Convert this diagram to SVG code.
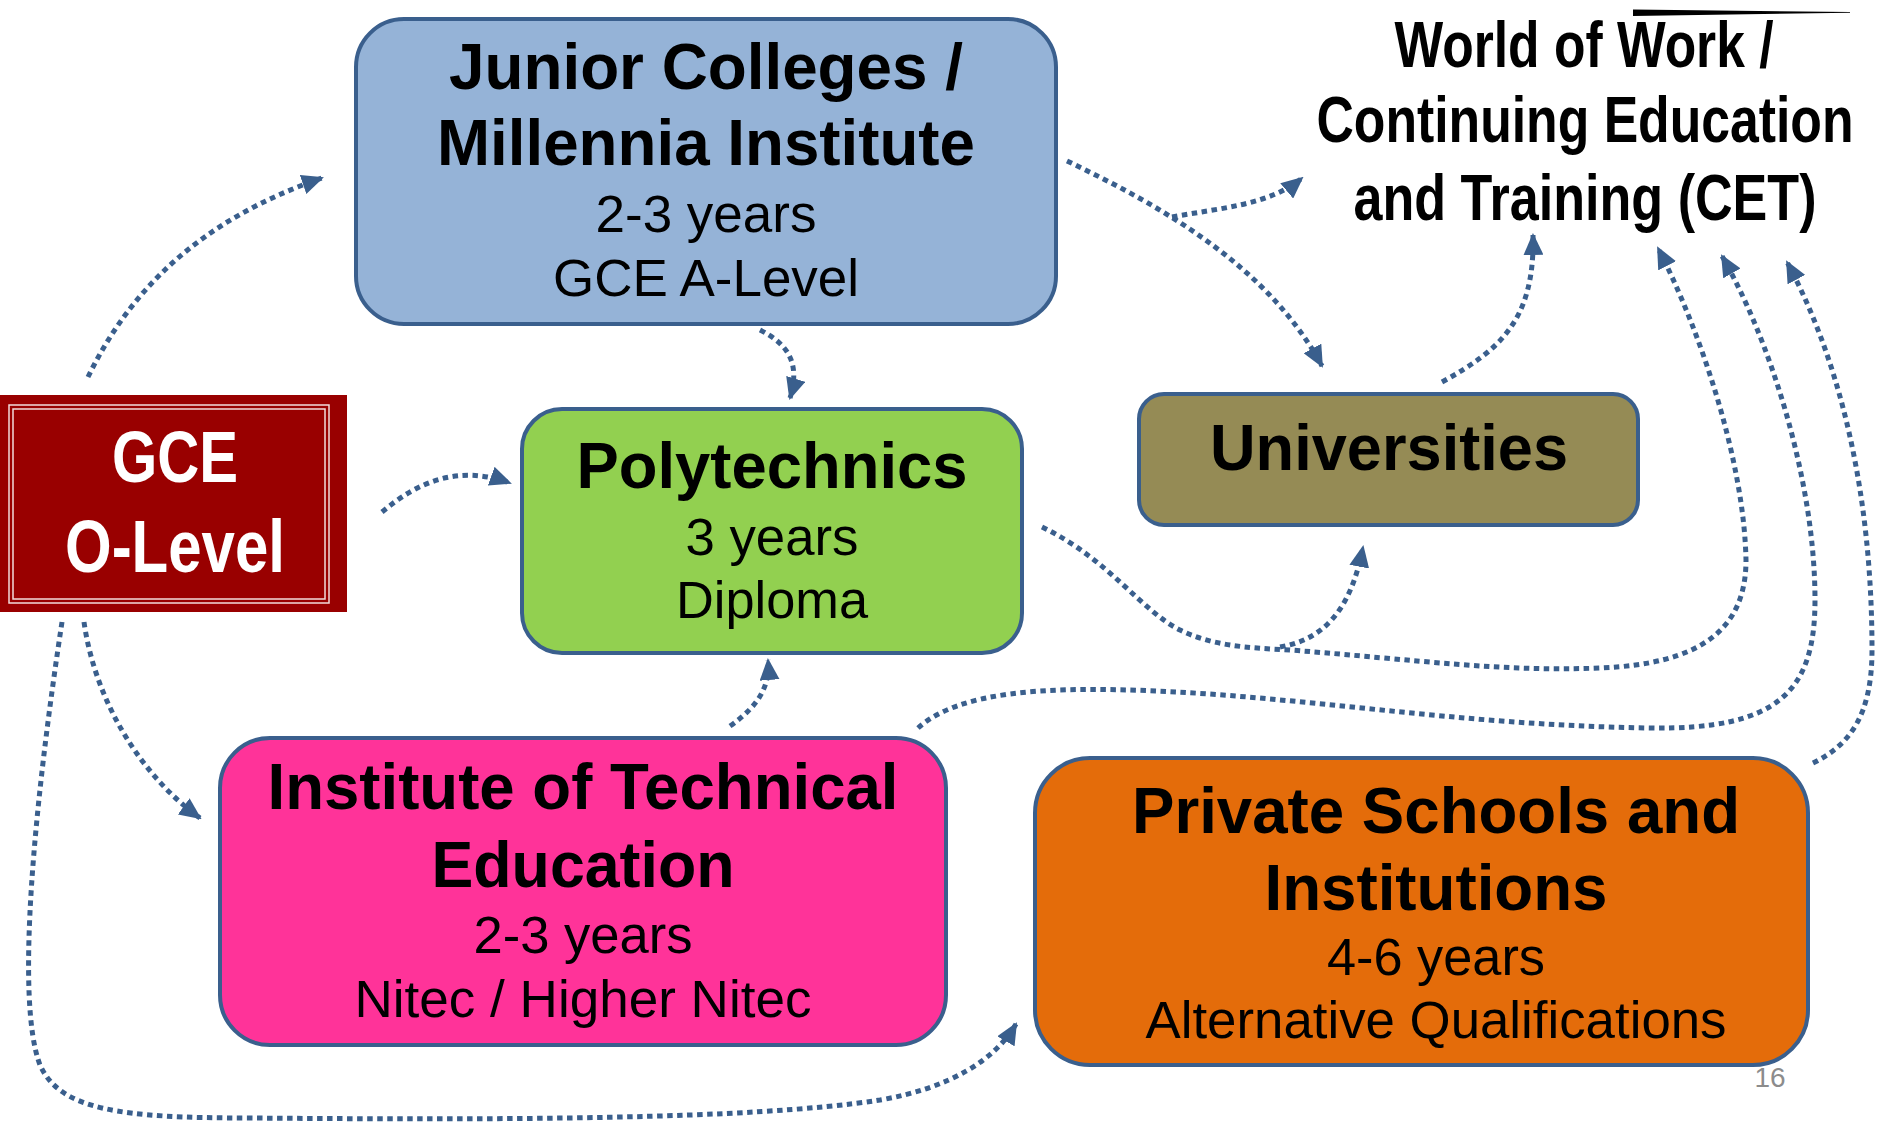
<svg xmlns="http://www.w3.org/2000/svg" width="1883" height="1124" viewBox="0 0 1883 1124">
<style>
.box{stroke:#3a5f8d;stroke-width:4}
.t{font-family:"Liberation Sans",Arial,sans-serif;text-anchor:middle;fill:#000}
.b{font-weight:bold;font-size:64px}
.n{font-weight:bold;font-size:52px}
.r{font-size:51px}
.c{fill:none;stroke:#3a5f8d;stroke-width:5;stroke-dasharray:5.5 4.5}
.a{marker-end:url(#arr)}
</style>
<defs>
<marker id="arr" markerUnits="userSpaceOnUse" markerWidth="22" markerHeight="20" viewBox="0 0 22 20" refX="20" refY="10" orient="auto">
<path d="M0,0 L22,10 L0,20 z" fill="#3a5f8d"/>
</marker>
</defs>
<rect width="1883" height="1124" fill="#fff"/>

<g id="connectors">
<path class="c a" d="M88 377 C130 290,200 220,322 178"/>
<path class="c a" d="M382 512 C420 480,460 465,510 483"/>
<path class="c a" d="M84 622 C95 700,140 775,200 818"/>
<path class="c a" d="M62 622 C35 800,15 1000,40 1065 C60 1110,120 1118,250 1118 C500 1120,750 1120,880 1100 C950 1088,995 1060,1016 1024"/>
<path class="c a" d="M760 330 C790 345,800 365,790 398"/>
<path class="c a" d="M730 726 C760 705,770 685,768 660"/>
<path class="c a" d="M1067 161 C1170 210,1270 270,1322 366"/>
<path class="c a" d="M1172 217 C1220 208,1270 205,1302 178"/>
<path class="c a" d="M1442 382 C1500 350,1535 320,1533 235"/>
<path class="c a" d="M1042 527 C1110 560,1140 610,1180 630 C1210 645,1245 648,1290 650 C1420 660,1500 672,1600 668 C1700 664,1746 630,1746 560 C1744 460,1700 330,1658 248"/>
<path class="c a" d="M1280 647 C1320 640,1350 615,1363 547"/>
<path class="c a" d="M918 728 C960 690,1050 688,1130 690 C1300 695,1450 725,1650 728 C1780 730,1815 690,1815 600 C1815 480,1770 340,1722 256"/>
<path class="c a" d="M1813 763 C1850 745,1872 715,1872 650 C1872 520,1850 380,1787 262"/>
</g>

<g id="gce">
<rect x="0" y="395" width="347" height="217" fill="#990000"/>
<rect x="9" y="405" width="320" height="198" fill="none" stroke="#f2dcdb" stroke-width="1.5"/>
<rect x="13" y="409" width="312" height="190" fill="none" stroke="#f2dcdb" stroke-width="1.5"/>
<text class="t" x="175" y="482" font-size="72" font-weight="bold" style="fill:#fff" textLength="126" lengthAdjust="spacingAndGlyphs">GCE</text>
<text class="t" x="175" y="572" font-size="74" font-weight="bold" style="fill:#fff" textLength="220" lengthAdjust="spacingAndGlyphs">O-Level</text>
</g>

<g id="jc">
<rect class="box" x="356" y="19" width="700" height="305" rx="48" fill="#95b3d7"/>
<text class="t b" x="706" y="89" textLength="514" lengthAdjust="spacingAndGlyphs">Junior Colleges /</text>
<text class="t b" x="706" y="165" textLength="538" lengthAdjust="spacingAndGlyphs">Millennia Institute</text>
<text class="t r" x="706" y="232" textLength="221" lengthAdjust="spacingAndGlyphs">2-3 years</text>
<text class="t r" x="706" y="296" textLength="306" lengthAdjust="spacingAndGlyphs">GCE A-Level</text>
</g>

<g id="poly">
<rect class="box" x="522" y="409" width="500" height="244" rx="40" fill="#92d050"/>
<text class="t b" x="772" y="488" textLength="391" lengthAdjust="spacingAndGlyphs">Polytechnics</text>
<text class="t r" x="772" y="555" textLength="173" lengthAdjust="spacingAndGlyphs">3 years</text>
<text class="t r" x="772" y="618" textLength="192" lengthAdjust="spacingAndGlyphs">Diploma</text>
</g>

<g id="universities">
<rect class="box" x="1139" y="394" width="499" height="131" rx="25" fill="#958b55"/>
<text class="t b" x="1389" y="470" textLength="358" lengthAdjust="spacingAndGlyphs">Universities</text>
</g>

<g id="ite">
<rect class="box" x="220" y="738" width="726" height="307" rx="50" fill="#ff3399"/>
<text class="t b" x="583" y="809" textLength="631" lengthAdjust="spacingAndGlyphs">Institute of Technical</text>
<text class="t b" x="583" y="887" textLength="303" lengthAdjust="spacingAndGlyphs">Education</text>
<text class="t r" x="583" y="953" textLength="219" lengthAdjust="spacingAndGlyphs">2-3 years</text>
<text class="t r" x="583" y="1017" textLength="457" lengthAdjust="spacingAndGlyphs">Nitec / Higher Nitec</text>
</g>

<g id="private">
<rect class="box" x="1035" y="758" width="773" height="307" rx="55" fill="#e46c0a"/>
<text class="t b" x="1436" y="833" textLength="608" lengthAdjust="spacingAndGlyphs">Private Schools and</text>
<text class="t b" x="1436" y="910" textLength="343" lengthAdjust="spacingAndGlyphs">Institutions</text>
<text class="t r" x="1436" y="975" textLength="218" lengthAdjust="spacingAndGlyphs">4-6 years</text>
<text class="t r" x="1436" y="1038" textLength="581" lengthAdjust="spacingAndGlyphs">Alternative Qualifications</text>
</g>

<g id="cet">
<polygon points="1633,9.5 1850,12 1850,12.8 1633,16" fill="#000"/>
<text class="t n" transform="translate(1584,67) scale(1,1.23)" x="0" y="0" textLength="379" lengthAdjust="spacingAndGlyphs">World of Work /</text>
<text class="t n" transform="translate(1585,142) scale(1,1.23)" x="0" y="0" textLength="537" lengthAdjust="spacingAndGlyphs">Continuing Education</text>
<text class="t n" transform="translate(1585,220) scale(1,1.23)" x="0" y="0" textLength="463" lengthAdjust="spacingAndGlyphs">and Training (CET)</text>
</g>

<text x="1770" y="1087" font-family="'Liberation Sans',Arial,sans-serif" font-size="28" fill="#8c8c8c" text-anchor="middle">16</text>
</svg>
